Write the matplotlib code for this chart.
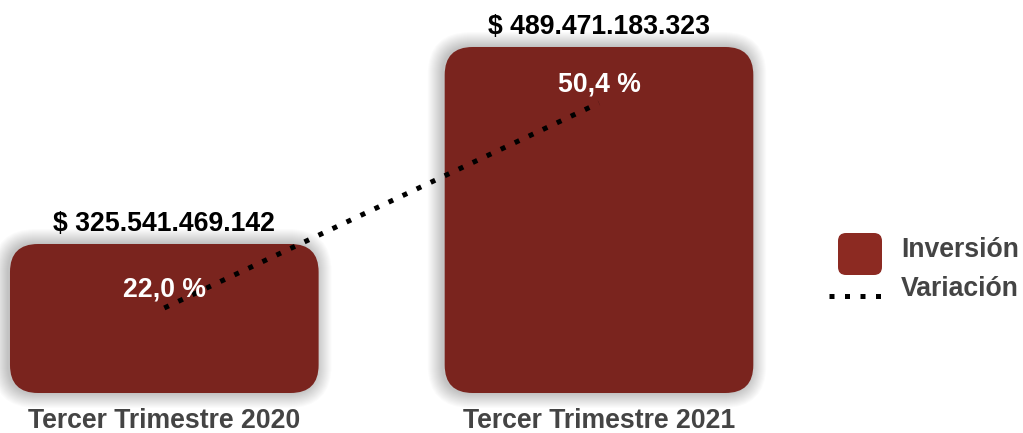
import matplotlib
matplotlib.use("Agg")
import matplotlib.pyplot as plt
from matplotlib.patches import FancyBboxPatch
from matplotlib.lines import Line2D

categories = ["Tercer Trimestre 2020", "Tercer Trimestre 2021"]
inversion = [325541469142, 489471183323]
inversion_labels = ["$ 325.541.469.142", "$ 489.471.183.323"]
variacion = [22.0, 50.4]
variacion_labels = ["22,0 %", "50,4 %"]

BAR = "#7a241e"
LEG = "#8c2a22"
GRAY = "#444444"
FONT = "Liberation Sans"
FS = 19.2

W, H = 1023, 433
fig = plt.figure(figsize=(W / 100, H / 100), dpi=100)
ax_right_px = 770
ax = fig.add_axes([0, 40 / H, ax_right_px / W, 1 - 40 / H])
ax.set_xlim(-164.3 / 434.7, 1 + (ax_right_px - 599) / 434.7)
ax.set_ylim(201.55e9, 528.58e9)
ax.axis("off")

px_x = 1 / 434.7          # data units per pixel (x)
px_y = 0.8321e9           # data units per pixel (y)
aspect = px_y / px_x
bw = 0.71
base = ax.get_ylim()[0]
rad = 28 * px_x

xs = list(range(len(categories)))
for i, v in zip(xs, inversion):
    # soft shadow
    for k in range(1, 16):
        sh = FancyBboxPatch((i - bw / 2 - 2 * px_x, base), bw, v - base,
                            boxstyle=f"round,pad={k * 1.0 * px_x},rounding_size={rad + k * px_x}",
                            mutation_aspect=aspect, fc="black", ec="none",
                            alpha=0.014, zorder=1, clip_on=False)
        ax.add_patch(sh)
    p = FancyBboxPatch((i - bw / 2, base), bw, v - base,
                       boxstyle=f"round,pad=0,rounding_size={rad}",
                       mutation_aspect=aspect, fc=BAR, ec="none", zorder=2, clip_on=False)
    ax.add_patch(p)
    ax.text(i, v + 20 * px_y, inversion_labels[i], ha="center", va="center",
            fontsize=FS, fontweight="bold", family=FONT, color="black", zorder=5)
    ax.text(i, base - 28 * px_y, categories[i], ha="center", va="center",
            fontsize=FS, fontweight="bold", family=FONT, color=GRAY, zorder=5, clip_on=False)

ax2 = ax.twinx()
ax2.set_ylim(10.22, 64.67)
ax2.axis("off")
ax2.plot(xs, variacion, color="black", lw=3.6, linestyle=(0, (1, 2.1)),
         dash_capstyle="butt", zorder=4)
for i, v in zip(xs, variacion):
    ax2.text(i, v + 18 / 7.218, variacion_labels[i], ha="center", va="center",
             fontsize=FS, fontweight="bold", family=FONT, color="white", zorder=6)

# legend
lax = fig.add_axes([0, 0, 1, 1])
lax.set_xlim(0, W)
lax.set_ylim(H, 0)
lax.axis("off")
lax.add_patch(FancyBboxPatch((838, 233), 44, 42, boxstyle="round,pad=0,rounding_size=8",
                             fc=LEG, ec="none"))
lax.add_line(Line2D([829, 882], [296, 296], color="black", lw=3.6,
                    linestyle=(0, (1, 2.1)), dash_capstyle="butt"))
lax.text(901, 250, "Inversión", ha="left", va="center", fontsize=FS,
         fontweight="bold", family=FONT, color=GRAY)
lax.text(901, 289, "Variación", ha="left", va="center", fontsize=FS,
         fontweight="bold", family=FONT, color=GRAY)

fig.savefig("out.png", dpi=100)
